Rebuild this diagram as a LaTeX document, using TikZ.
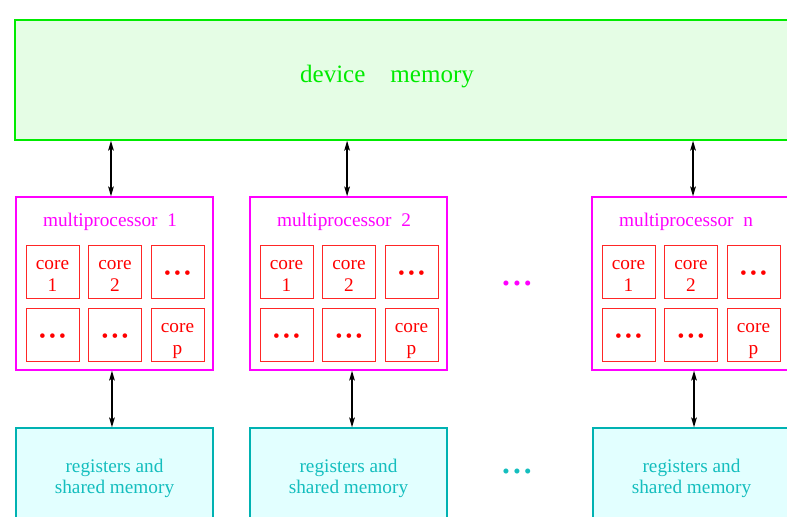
\documentclass[tikz,border=0pt]{standalone}
\usepackage{fontspec}
\setmainfont{Liberation Serif}
\usetikzlibrary{arrows.meta}

\definecolor{devgreen}{RGB}{0,235,0}
\definecolor{devfill}{RGB}{229,253,229}
\definecolor{mpmag}{RGB}{255,0,255}
\definecolor{corered}{RGB}{255,0,0}
\definecolor{regteal}{RGB}{0,178,178}
\definecolor{regtext}{RGB}{20,190,190}
\definecolor{regfill}{RGB}{226,255,255}

\newcommand\dotz{\raisebox{-2.8pt}[\height][\depth]{•\,•\,•}}
\newcommand\corelbl[1]{\raisebox{-3.4pt}[\height][\depth]{%
  \begin{tabular}{@{}c@{}}#1\end{tabular}}}

\begin{document}
\begin{tikzpicture}[
  x=0.025cm, y=-0.025cm,
  font=\fontsize{13.7}{15}\selectfont,
  devbox/.style={draw=devgreen, fill=devfill, line width=1pt,
                 minimum width=19.625cm, minimum height=3cm, inner sep=0pt},
  devlbl/.style={text=devgreen, font=\fontsize{17.8}{20}\selectfont},
  mpbox/.style={draw=mpmag, line width=0.9pt,
                minimum width=4.925cm, minimum height=4.325cm, inner sep=0pt},
  mptitle/.style={text=mpmag},
  core/.style={draw=corered!85, line width=0.5pt, text=corered,
               minimum size=1.325cm, inner sep=0pt},
  regbox/.style={draw=regteal, fill=regfill, line width=0.9pt, text=regtext,
                 minimum width=4.925cm, minimum height=2.5cm,
                 align=center, inner sep=0pt},
  skipdots/.style={font=\fontsize{15}{15}\selectfont, inner sep=0pt},
  arr/.style={{Stealth[length=7pt,width=4pt,inset=1.5pt]}-{Stealth[length=7pt,width=4pt,inset=1.5pt]},
              line width=1.1pt},
]

  \def\ca{114.5}
  \def\cb{348.5}
  \def\cn{690.5}

  \useasboundingbox (0,0) rectangle (787,517);
  \clip (0,0) rectangle (787,517);

  % Device memory

  \node[devbox] (dev)    at (407.5,80) {};
  \node[devlbl] (devlbl) at (387,77)   {device\quad memory};

  % Multiprocessor 1

  \node[mpbox]   (mp1) at (\ca,283.5) {};
  \node[mptitle] (mt1) at (\ca-4.5,222) {multiprocessor\enspace 1};
  \node[core] (c1a) at (\ca-62,271.5)  {\corelbl{core\\1}};
  \node[core] (c1b) at (\ca+0.5,271.5) {\corelbl{core\\2}};
  \node[core] (c1c) at (\ca+63,271.5)  {\dotz};
  \node[core] (c1d) at (\ca-62,334.5)  {\dotz};
  \node[core] (c1e) at (\ca+0.5,334.5) {\dotz};
  \node[core] (c1f) at (\ca+63,334.5)  {\corelbl{core\\p}};
  \node[regbox] (rg1) at (\ca,478) {registers and\\shared memory};

  % Multiprocessor 2

  \node[mpbox]   (mp2) at (\cb,283.5) {};
  \node[mptitle] (mt2) at (\cb-4.5,222) {multiprocessor\enspace 2};
  \node[core] (c2a) at (\cb-62,271.5)  {\corelbl{core\\1}};
  \node[core] (c2b) at (\cb+0.5,271.5) {\corelbl{core\\2}};
  \node[core] (c2c) at (\cb+63,271.5)  {\dotz};
  \node[core] (c2d) at (\cb-62,334.5)  {\dotz};
  \node[core] (c2e) at (\cb+0.5,334.5) {\dotz};
  \node[core] (c2f) at (\cb+63,334.5)  {\corelbl{core\\p}};
  \node[regbox] (rg2) at (\cb,478) {registers and\\shared memory};

  % Multiprocessor n

  \node[mpbox]   (mpn) at (\cn,283.5) {};
  \node[mptitle] (mtn) at (\cn-4.5,222) {multiprocessor\enspace n};
  \node[core] (cna) at (\cn-62,271.5)  {\corelbl{core\\1}};
  \node[core] (cnb) at (\cn+0.5,271.5) {\corelbl{core\\2}};
  \node[core] (cnc) at (\cn+63,271.5)  {\dotz};
  \node[core] (cnd) at (\cn-62,334.5)  {\dotz};
  \node[core] (cne) at (\cn+0.5,334.5) {\dotz};
  \node[core] (cnf) at (\cn+63,334.5)  {\corelbl{core\\p}};
  \node[regbox] (rgn) at (\cn+1,478) {registers and\\shared memory};

  % Gaps between 2 and n

  \node[skipdots, text=mpmag]   (mpdots) at (517,282) {\dotz};
  \node[skipdots, text=regtext] (rgdots) at (517,470) {\dotz};

  % Arrows

  \draw[arr] ([xshift=-2.5pt]dev.south -| mp1.north) -- ([xshift=-2.5pt]mp1.north);
  \draw[arr] ([xshift=-1pt]dev.south -| mp2.north)   -- ([xshift=-1pt]mp2.north);
  \draw[arr] ([xshift=1.8pt]dev.south -| mpn.north)  -- ([xshift=1.8pt]mpn.north);

  \draw[arr] ([xshift=-1.8pt]mp1.south) -- ([xshift=-1.8pt]rg1.north);
  \draw[arr] ([xshift=2.5pt]mp2.south)  -- ([xshift=2.5pt]rg2.north);
  \draw[arr] ([xshift=2.5pt]mpn.south)  -- ([xshift=2.5pt]mpn.south |- rgn.north);

\end{tikzpicture}
\end{document}
